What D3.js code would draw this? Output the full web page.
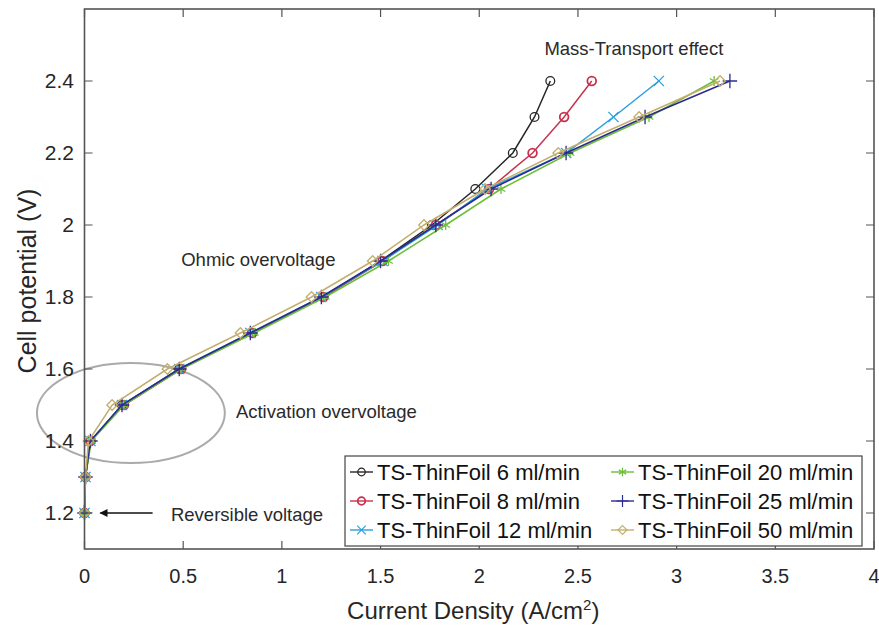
<!DOCTYPE html>
<html>
<head>
<meta charset="utf-8">
<script src="https://cdn.jsdelivr.net/npm/d3@7"></script>
<style>
  body { margin: 0; background: #fff; }
  svg text { font-family: "Liberation Sans", Arial, Helvetica, sans-serif; }
</style>
</head>
<body>
<script>
(function(){

//cell potential steps shared by every series (V)
var voltages = [1.2, 1.3, 1.4, 1.5, 1.6, 1.7, 1.8, 1.9, 2.0, 2.1, 2.2, 2.3, 2.4];

//current density (A/cm2), one list per flow rate
var flow6  = [0, 0.005, 0.03, 0.19, 0.48, 0.85, 1.21, 1.50, 1.76, 1.98, 2.17, 2.28, 2.36];
var flow8  = [0, 0.005, 0.03, 0.20, 0.49, 0.85, 1.21, 1.51, 1.78, 2.05, 2.27, 2.43, 2.57];
var flow12 = [0, 0.005, 0.03, 0.19, 0.48, 0.84, 1.20, 1.51, 1.79, 2.04, 2.44, 2.68, 2.91];
var flow20 = [0, 0.005, 0.035, 0.20, 0.49, 0.86, 1.22, 1.54, 1.83, 2.11, 2.46, 2.86, 3.19];
var flow25 = [0, 0.005, 0.03, 0.19, 0.48, 0.84, 1.20, 1.50, 1.78, 2.06, 2.44, 2.84, 3.27];
var flow50 = [0, 0.005, 0.02, 0.14, 0.42, 0.79, 1.15, 1.46, 1.72, 2.03, 2.40, 2.81, 3.22];

var seriesNames = ["TS-ThinFoil 6 ml/min", "TS-ThinFoil 8 ml/min", "TS-ThinFoil 12 ml/min",
    "TS-ThinFoil 20 ml/min", "TS-ThinFoil 25 ml/min", "TS-ThinFoil 50 ml/min"];
var seriesValues = [flow6, flow8, flow12, flow20, flow25, flow50];

//tick labels
var xTicks = [0, 0.5, 1, 1.5, 2, 2.5, 3, 3.5, 4];
var yTicks = [1.2, 1.4, 1.6, 1.8, 2, 2.2, 2.4];

//annotation texts
var noteTexts = ["Mass-Transport effect", "Ohmic overvoltage", "Activation overvoltage", "Reversible voltage"];

//styles per series (kept apart from the data)
var colors = ["#262626", "#c8324f", "#2a9fdc", "#6cbf3a", "#2b2b8e", "#c4ae6c"];
var symbols = [d3.symbolCircle, d3.symbolCircle, d3.symbolTimes, d3.symbolAsterisk, d3.symbolPlus, d3.symbolDiamond2];

window.onload = setChart();

function setChart(){
    var width = 879,
        height = 630,
        left = 84.5,
        right = 874,
        top = 9,
        bottom = 549;

    var svg = d3.select("body")
        .append("svg")
        .attr("width", width)
        .attr("height", height);

    var x = d3.scaleLinear().domain([0, 4]).range([left, right]);
    var y = d3.scaleLinear().domain([1.1, 2.6]).range([bottom, top]);

    //annotations drawn under the data
    setNotes(svg, x, y);

    //series lines and markers
    var line = d3.line()
        .x(function(d){ return x(d[0]); })
        .y(function(d){ return y(d[1]); });

    seriesValues.forEach(function(vals, i){
        var pts = vals.map(function(v, j){ return [v, voltages[j]]; });
        var g = svg.append("g").attr("class", "series");
        g.append("path")
            .datum(pts)
            .attr("fill", "none")
            .attr("stroke", colors[i])
            .attr("stroke-width", 1.5)
            .attr("d", line);
        g.selectAll(".mark")
            .data(pts)
            .enter()
            .append("path")
            .attr("class", "mark")
            .attr("transform", function(d){ return "translate(" + x(d[0]) + "," + y(d[1]) + ")"; })
            .attr("d", d3.symbol().type(symbols[i]).size(symbols[i] === d3.symbolCircle ? 60 : 70))
            .attr("fill", "none")
            .attr("stroke", colors[i])
            .attr("stroke-width", i === 1 ? 1.8 : 1.3);
    });

    setAxes(svg, x, y, left, right, top, bottom);
    setLegend(svg);
};

function setAxes(svg, x, y, left, right, top, bottom){
    var axisColor = "#555";

    //box
    svg.append("rect")
        .attr("x", left)
        .attr("y", top)
        .attr("width", right - left)
        .attr("height", bottom - top)
        .attr("fill", "none")
        .attr("stroke", axisColor)
        .attr("stroke-width", 1.6);

    //inward ticks on all four sides
    var tickLen = 8;
    svg.selectAll(".xtick")
        .data(xTicks)
        .enter()
        .append("path")
        .attr("d", function(d){
            return "M" + x(d) + "," + bottom + "v" + (-tickLen) + "M" + x(d) + "," + top + "v" + tickLen;
        })
        .attr("stroke", axisColor)
        .attr("stroke-width", 1.2);
    svg.selectAll(".ytick")
        .data(yTicks)
        .enter()
        .append("path")
        .attr("d", function(d){
            return "M" + left + "," + y(d) + "h" + tickLen + "M" + right + "," + y(d) + "h" + (-tickLen);
        })
        .attr("stroke", axisColor)
        .attr("stroke-width", 1.2);

    //tick labels
    svg.selectAll(".xlab")
        .data(xTicks)
        .enter()
        .append("text")
        .attr("x", function(d){ return x(d); })
        .attr("y", 583)
        .attr("text-anchor", "middle")
        .attr("font-size", 20)
        .attr("fill", "#262626")
        .text(function(d){ return d; });
    svg.selectAll(".ylab")
        .data(yTicks)
        .enter()
        .append("text")
        .attr("x", 74)
        .attr("y", function(d){ return y(d) + 7; })
        .attr("text-anchor", "end")
        .attr("font-size", 21)
        .attr("fill", "#262626")
        .text(function(d){ return d; });

    //axis titles
    var xt = svg.append("text")
        .attr("x", (left + right) / 2 - 6)
        .attr("y", 619)
        .attr("text-anchor", "middle")
        .attr("font-size", 24)
        .attr("fill", "#262626");
    xt.append("tspan").text("Current Density (A/cm");
    xt.append("tspan").attr("dy", -9).attr("font-size", 15).text("2");
    xt.append("tspan").attr("dy", 9).text(")");

    svg.append("text")
        .attr("transform", "translate(36," + 281 + ") rotate(-90)")
        .attr("text-anchor", "middle")
        .attr("font-size", 25)
        .attr("fill", "#262626")
        .text("Cell potential (V)");
};

function setNotes(svg, x, y){
    //ellipse round the activation region
    svg.append("ellipse")
        .attr("cx", x(0.235))
        .attr("cy", y(1.478))
        .attr("rx", x(0.476) - x(0))
        .attr("ry", y(1.1) - y(1.239))
        .attr("fill", "none")
        .attr("stroke", "#aaa")
        .attr("stroke-width", 2);

    var notePos = [[2.33, 2.472], [0.49, 1.886], [0.767, 1.464], [0.438, 1.178]];
    svg.selectAll(".note")
        .data(noteTexts)
        .enter()
        .append("text")
        .attr("class", "note")
        .attr("x", function(d, i){ return x(notePos[i][0]); })
        .attr("y", function(d, i){ return y(notePos[i][1]); })
        .attr("font-size", 18.5)
        .attr("fill", "#2a2a2a")
        .text(function(d){ return d; });

    //arrow pointing at the reversible voltage
    svg.append("defs").append("marker")
        .attr("id", "head")
        .attr("viewBox", "0 0 10 10")
        .attr("refX", 9)
        .attr("refY", 5)
        .attr("markerWidth", 10)
        .attr("markerHeight", 8)
        .attr("markerUnits", "userSpaceOnUse")
        .attr("orient", "auto")
        .append("path")
        .attr("d", "M0,0L10,5L0,10z")
        .attr("fill", "#111");
    svg.append("line")
        .attr("x1", x(0.345))
        .attr("y1", y(1.2))
        .attr("x2", x(0.08))
        .attr("y2", y(1.2))
        .attr("stroke", "#111")
        .attr("stroke-width", 1.5)
        .attr("marker-end", "url(#head)");
};

function setLegend(svg){
    var lx = 345, ly = 456, lw = 517, lh = 90;
    var rowH = 29, colX = [350, 611];

    svg.append("rect")
        .attr("x", lx)
        .attr("y", ly)
        .attr("width", lw)
        .attr("height", lh)
        .attr("fill", "#fff")
        .attr("stroke", "#444")
        .attr("stroke-width", 1.2);

    var items = svg.selectAll(".legendItem")
        .data(seriesNames)
        .enter()
        .append("g")
        .attr("class", "legendItem")
        .attr("transform", function(d, i){
            return "translate(" + colX[Math.floor(i / 3)] + "," + (ly + 16 + (i % 3) * rowH) + ")";
        });

    items.append("line")
        .attr("x1", 0)
        .attr("x2", 23)
        .attr("stroke", function(d, i){ return colors[i]; })
        .attr("stroke-width", 1.4);
    items.append("path")
        .attr("transform", "translate(11.5,0)")
        .attr("d", function(d, i){ return d3.symbol().type(symbols[i]).size(symbols[i] === d3.symbolCircle ? 45 : 50)(); })
        .attr("fill", "none")
        .attr("stroke", function(d, i){ return colors[i]; })
        .attr("stroke-width", function(d, i){ return i === 1 ? 1.8 : 1.2; });
    items.append("text")
        .attr("x", 27)
        .attr("y", 8)
        .attr("font-size", 22)
        .attr("fill", "#111")
        .text(function(d){ return d; });
};

})();
</script>
</body>
</html>
